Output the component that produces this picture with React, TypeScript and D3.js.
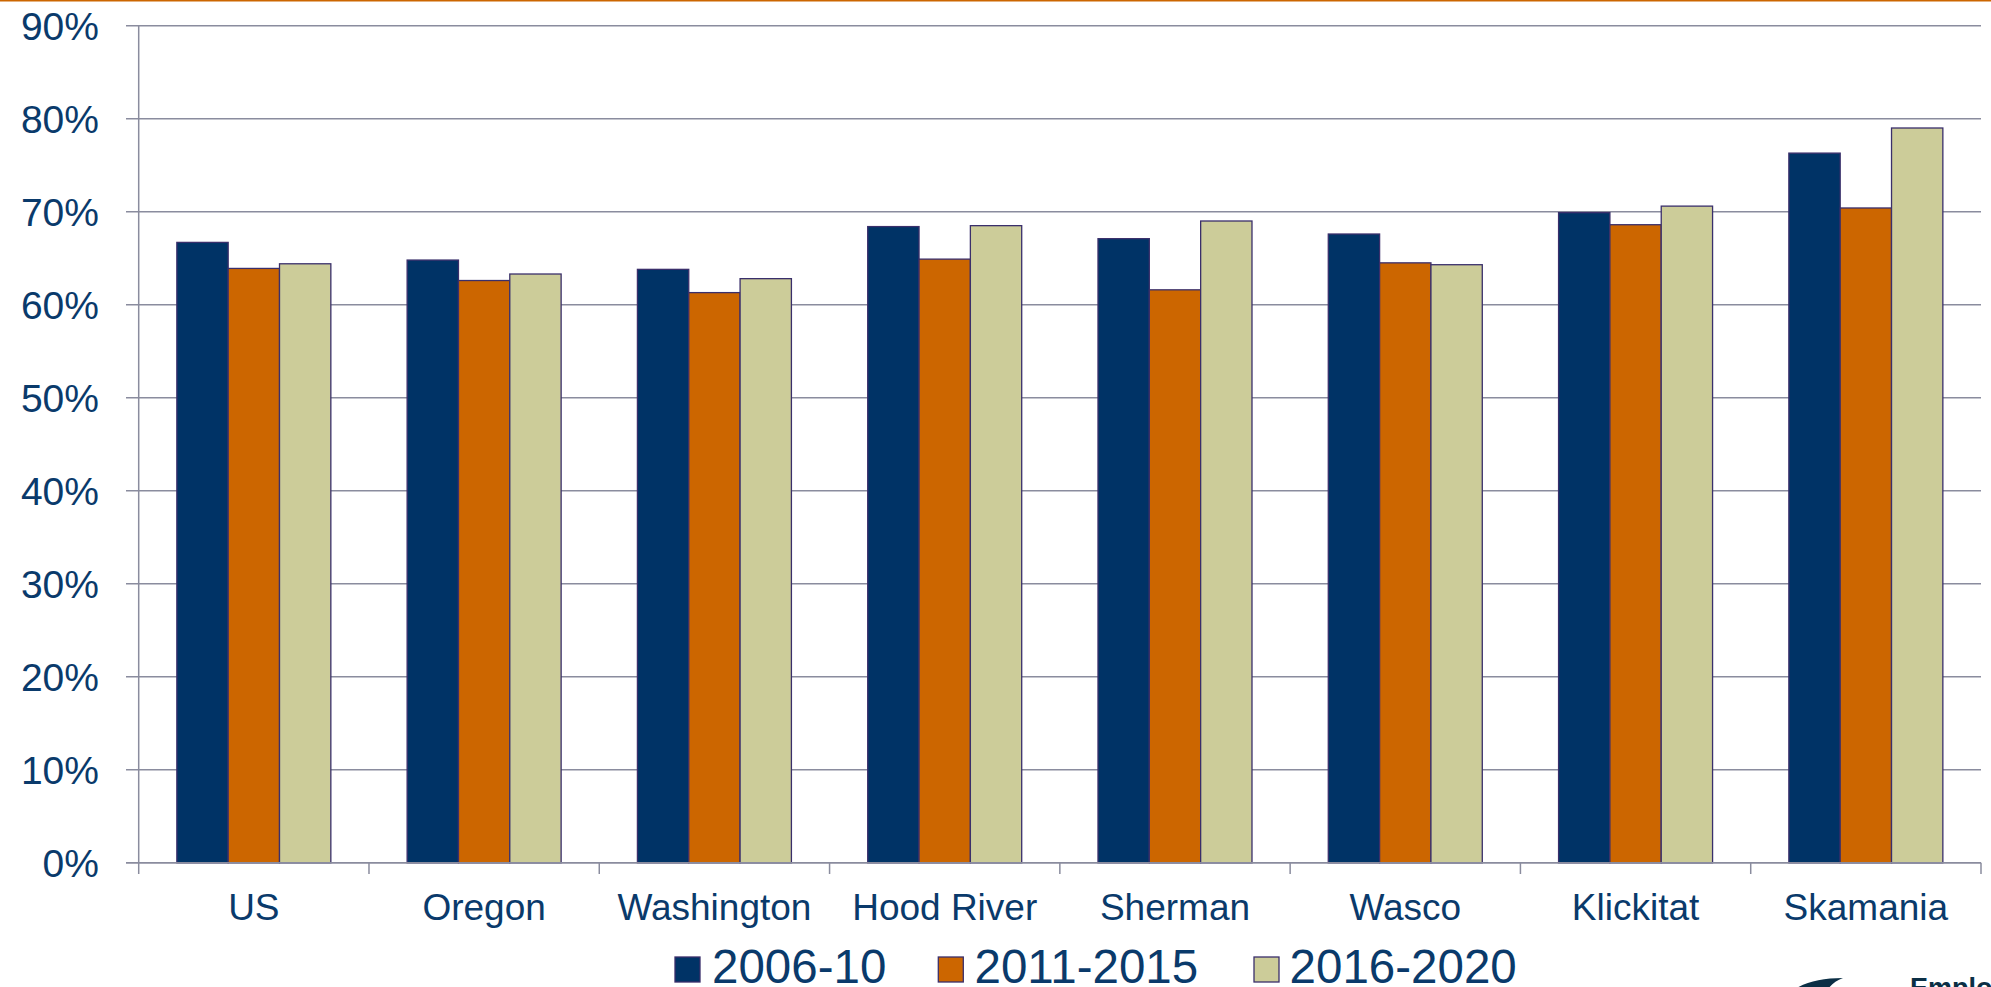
import React from "react";
import * as d3 from "d3";

const categories = ["US", "Oregon", "Washington", "Hood River", "Sherman", "Wasco", "Klickitat", "Skamania"];
const seriesNames = ["2006-10", "2011-2015", "2016-2020"];
const values2006 = [66.7, 64.8, 63.8, 68.4, 67.1, 67.6, 69.9, 76.3];
const values2011 = [63.9, 62.6, 61.3, 64.9, 61.6, 64.5, 68.6, 70.4];
const values2016 = [64.4, 63.3, 62.8, 68.5, 69.0, 64.3, 70.6, 79.0];
const seriesColors = ["#003366", "#cc6600", "#cccc99"];
const yTicks = [0, 10, 20, 30, 40, 50, 60, 70, 80, 90];

const W = 1991;
const H = 987;
const left = 138.7;
const right = 1981;
const top = 25.7;
const bottom = 862.7;

export default function App() {
  const allSeries = [values2006, values2011, values2016];
  const x0 = d3.scaleBand<string>().domain(categories).range([left, right]).padding(0);
  const groupW = 154;
  const x1 = d3.scaleBand<string>().domain(seriesNames).range([0, groupW]).padding(0);
  const y = d3.scaleLinear().domain([0, 90]).range([bottom, top]);
  const textColor = "#0a3a6b";
  const gridColor = "#8a8c9e";
  const barStroke = "#3a2f6b";
  const font = "Liberation Sans, Arial, sans-serif";

  const legendItems = [
    { sq: 675, tx: 712 },
    { sq: 938.3, tx: 974.5 },
    { sq: 1254, tx: 1289.6 },
  ];

  return (
    <svg width={W} height={H} style={{ position: "absolute", left: 0, top: 0, background: "#fff" }} fontFamily={font}>
      <rect x={0} y={0} width={W} height={H} fill="#fff" />
      <line x1={0} x2={W} y1={0.75} y2={0.75} stroke="#cc6600" strokeWidth={1.5} />
      {/* gridlines */}
      {yTicks.map((t) => (
        <g key={t}>
          <line x1={126} x2={right} y1={y(t)} y2={y(t)} stroke={gridColor} strokeWidth={1.5} />
          <text x={99} y={y(t) + 14} textAnchor="end" fontSize={39} fill={textColor}>
            {t}%
          </text>
        </g>
      ))}
      {/* y axis */}
      <line x1={left} x2={left} y1={top} y2={bottom} stroke={gridColor} strokeWidth={1.5} />
      {/* category ticks */}
      {[...categories.map((c) => x0(c) as number), right].map((xv, i) => (
        <line key={i} x1={xv} x2={xv} y1={bottom} y2={874} stroke={gridColor} strokeWidth={1.5} />
      ))}
      {/* bars */}
      {categories.map((c, ci) => {
        const gx = (x0(c) as number) + (x0.bandwidth() - groupW) / 2;
        return (
          <g key={c}>
            {allSeries.map((vals, si) => (
              <rect
                key={si}
                x={gx + (x1(seriesNames[si]) as number)}
                y={y(vals[ci])}
                width={x1.bandwidth()}
                height={bottom - y(vals[ci])}
                fill={seriesColors[si]}
                stroke={barStroke}
                strokeWidth={1.3}
              />
            ))}
            <text
              x={(x0(c) as number) + x0.bandwidth() / 2}
              y={920}
              textAnchor="middle"
              fontSize={37}
              fill={textColor}
            >
              {c}
            </text>
          </g>
        );
      })}
      {/* x axis baseline */}
      <line x1={126} x2={right} y1={bottom} y2={bottom} stroke={gridColor} strokeWidth={1.5} />
      {/* legend */}
      {seriesNames.map((s, i) => (
        <g key={s}>
          <rect x={legendItems[i].sq} y={957} width={25} height={25} fill={seriesColors[i]} stroke={barStroke} strokeWidth={1.3} />
          <text x={legendItems[i].tx} y={982.5} fontSize={47.5} fill={textColor}>
            {s}
          </text>
        </g>
      ))}
      {/* partial logo */}
      <path d="M1782,1000 C1795,985 1815,978 1843,978 C1832,982 1826,990 1822,1000 Z" fill="#0b2f45" />
      <text x={1910} y={997} fontSize={27} fontWeight="bold" fill="#0b2f45">
        Employment
      </text>
    </svg>
  );
}
